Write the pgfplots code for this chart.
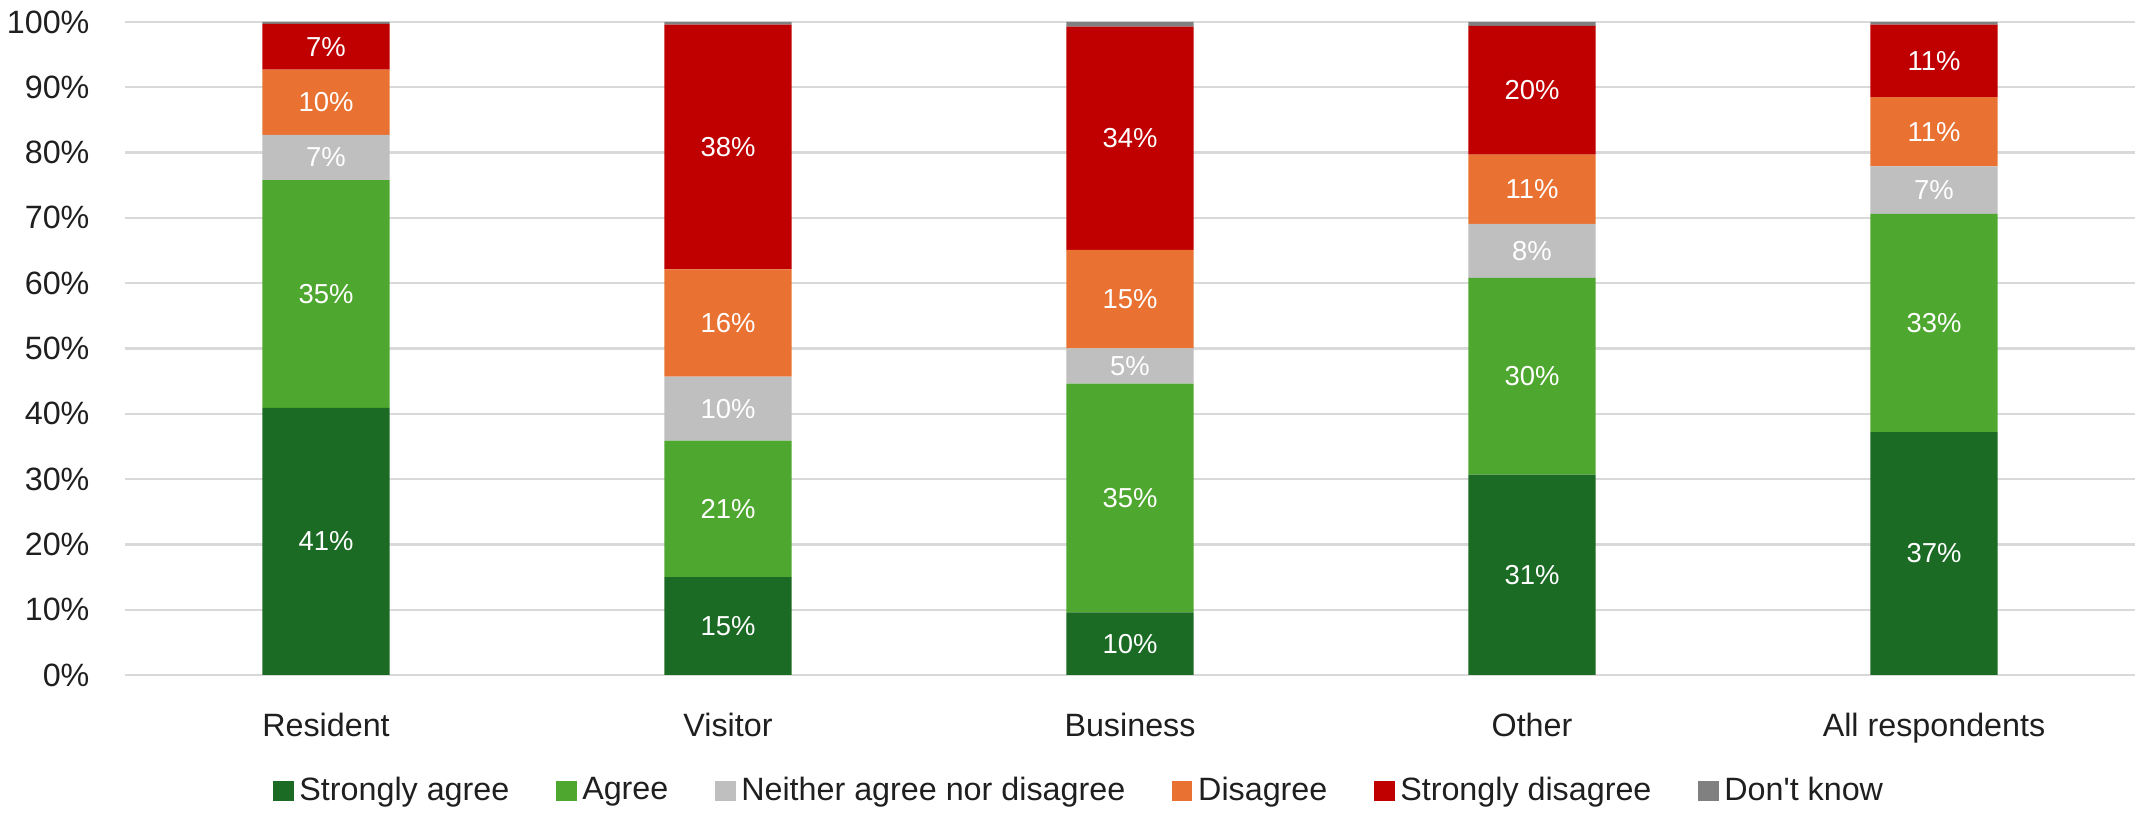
\documentclass[border=0pt]{standalone}
\usepackage{pgfplots}
\pgfplotsset{compat=1.18}
\usepackage{fontspec}
\setmainfont{Liberation Sans}

\definecolor{sagree}{HTML}{1B6B24}
\definecolor{agree}{HTML}{4EA72E}
\definecolor{neither}{HTML}{BFBFBF}
\definecolor{disagree}{HTML}{E97132}
\definecolor{sdisagree}{HTML}{C00000}
\definecolor{dontknow}{HTML}{808080}
\definecolor{gridc}{HTML}{D9D9D9}
\definecolor{txt}{HTML}{1F1F1F}

\begin{document}
\begin{tikzpicture}
\begin{axis}[
    scale only axis,
    width=703.5pt, height=228.55pt,
    ybar stacked, bar width=44.5pt,
    xmin=-0.5, xmax=4.5, ymin=0, ymax=100,
    xtick=data,
    xticklabels={Resident,Visitor,Business,Other,All respondents},
    ytick={0,10,...,100},
    yticklabel={\pgfmathprintnumber{\tick}\%},
    /pgf/number format/assume math mode=true,
    major tick length=0pt,
    axis line style={draw=none},
    ymajorgrids, grid style={draw=gridc, line width=0.8pt},
    tick label style={font=\fontsize{11.3}{13}\selectfont, text=txt},
    yticklabel style={anchor=east, inner sep=0pt, xshift=-12.25pt},
    xticklabel style={anchor=base, inner sep=0pt, yshift=-21.7pt},
    % stacked bars already put the label at the middle of each segment
    lab/.style={
        nodes near coords={\pgfplotspointmeta},
        point meta=explicit symbolic,
        every node near coord/.append style={
            font=\fontsize{9.6}{11}\selectfont, text=white, anchor=center}
    },
    legend columns=-1,
    legend image code/.code={\fill[#1] (0pt,-3.6pt) rectangle (7.2pt,3.6pt);},
    legend style={
        at={(0.4756,-0.1776)}, anchor=center,
        draw=none, fill=none,
        font=\fontsize{11.3}{13}\selectfont, text=txt,
        /tikz/every even column/.append style={column sep=14.3pt}
    },
]
\addplot[fill=sagree, draw=none, lab] coordinates {
    (0,40.9) [41\%] (1,15.0) [15\%] (2,9.6) [10\%] (3,30.7) [31\%] (4,37.2) [37\%]};
\addlegendentry{Strongly agree}
\addplot[fill=agree, draw=none, lab] coordinates {
    (0,34.9) [35\%] (1,20.9) [21\%] (2,35.0) [35\%] (3,30.1) [30\%] (4,33.4) [33\%]};
\addlegendentry{Agree}
\addplot[fill=neither, draw=none, lab] coordinates {
    (0,6.9) [7\%] (1,9.8) [10\%] (2,5.4) [5\%] (3,8.3) [8\%] (4,7.3) [7\%]};
\addlegendentry{Neither agree nor disagree}
\addplot[fill=disagree, draw=none, lab] coordinates {
    (0,10.0) [10\%] (1,16.4) [16\%] (2,15.1) [15\%] (3,10.6) [11\%] (4,10.6) [11\%]};
\addlegendentry{Disagree}
\addplot[fill=sdisagree, draw=none, lab] coordinates {
    (0,7.0) [7\%] (1,37.5) [38\%] (2,34.2) [34\%] (3,19.7) [20\%] (4,11.1) [11\%]};
\addlegendentry{Strongly disagree}
\addplot[fill=dontknow, draw=none] coordinates {
    (0,0.3) (1,0.4) (2,0.7) (3,0.6) (4,0.4)};
\addlegendentry{Don\textquotesingle t know}
\coordinate (bl) at (rel axis cs:0,0);
\coordinate (tr) at (rel axis cs:1,1);
\end{axis}
\pgfresetboundingbox
\path[use as bounding box] ([shift={(-43.75pt,-48.65pt)}]bl) rectangle ([shift={(1.4pt,7.7pt)}]tr);
\end{tikzpicture}
\end{document}
